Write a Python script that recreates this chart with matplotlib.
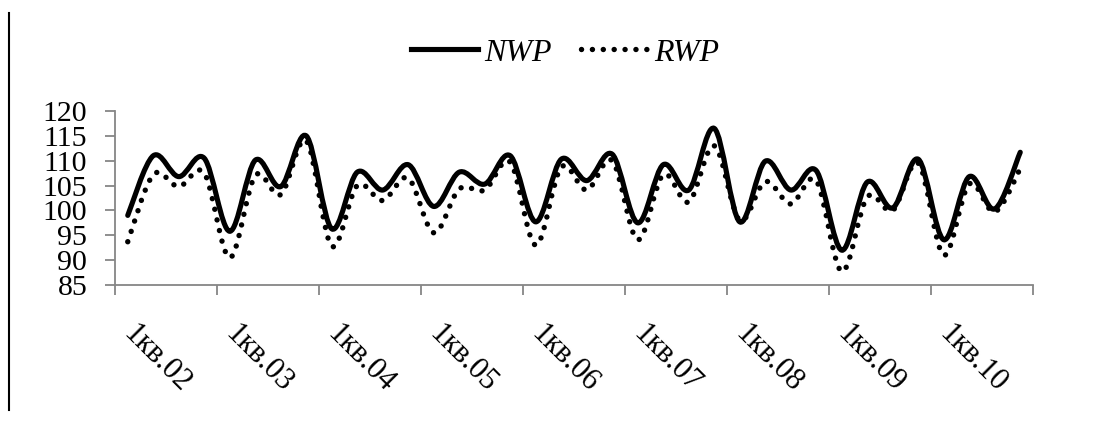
import matplotlib
matplotlib.use('Agg')
import matplotlib.pyplot as plt
import numpy as np
from matplotlib.path import Path
from matplotlib.patches import PathPatch
from matplotlib.lines import Line2D

# Quarterly index values, 1кв.02 .. 4кв.10
quarters = [f"{q}кв.{y:02d}" for y in range(2, 11) for q in range(1, 5)]
nwp = [99.0, 111.0, 106.8, 110.5, 95.8, 110.1, 104.8, 115.0, 96.3,
       107.7, 104.1, 109.2, 100.8, 107.7, 105.3, 111.0, 97.7, 110.3,
       106.0, 111.3, 97.5, 109.2, 104.1, 116.5, 97.7, 109.9, 104.1,
       108.0, 92.0, 105.7, 100.5, 110.3, 94.1, 106.8, 100.3, 111.7]
rwp = [93.7, 107.2, 104.8, 107.5, 90.5, 107.0, 103.2, 114.0, 92.8,
       105.0, 102.0, 106.5, 95.5, 104.3, 104.1, 109.7, 93.0, 108.7,
       104.1, 110.0, 94.1, 107.2, 101.7, 113.0, 98.0, 105.8, 101.3,
       106.0, 87.7, 102.7, 100.0, 109.5, 91.0, 105.3, 99.7, 108.4]
series_names = ['NWP', 'RWP']


def smooth_path(xs, ys):
    # Excel-like smoothed line: Catmull-Rom segments as cubic Bezier curves
    pts = np.column_stack([xs, ys]).astype(float)
    ext = np.vstack([pts[0], pts, pts[-1]])
    verts = [pts[0]]
    codes = [Path.MOVETO]
    for i in range(1, len(ext) - 2):
        p0, p1, p2, p3 = ext[i - 1], ext[i], ext[i + 1], ext[i + 2]
        c1 = p1 + (p2 - p0) / 6.0
        c2 = p2 - (p3 - p1) / 6.0
        verts += [c1, c2, p2]
        codes += [Path.CURVE4] * 3
    return Path(verts, codes)


W, H = 1097, 426
fig = plt.figure(figsize=(W / 100, H / 100), dpi=100)
ax = fig.add_axes([115 / W, 1 - 285 / H, (1033 - 115) / W, (285 - 111) / H])

x = np.arange(len(quarters))
dots = (0, (0.01, 2.0))
ax.add_patch(PathPatch(smooth_path(x, nwp), fill=False, color='black',
                       lw=3.7, capstyle='round', joinstyle='round'))
ax.add_patch(PathPatch(smooth_path(x, rwp), fill=False, color='black',
                       lw=3.9, linestyle=dots, capstyle='round'))

ax.set_xlim(-0.5, len(quarters) - 0.5)
ax.set_ylim(85, 120)
ax.set_yticks(np.arange(85, 121, 5))

serif = 'Liberation Serif'
grey = '#868686'
for s in ['top', 'right']:
    ax.spines[s].set_visible(False)
for s in ['left', 'bottom']:
    ax.spines[s].set_color(grey)
    ax.spines[s].set_linewidth(1.3)

ax.tick_params(axis='y', direction='out', length=7, width=1.3, color=grey,
               labelsize=21.5, pad=13)
for lab in ax.get_yticklabels():
    lab.set_fontfamily(serif)

# boundary tick marks every 4 quarters, labels at first quarter of each year
ax.set_xticks(np.arange(-0.5, len(quarters), 4))
ax.set_xticklabels([])
ax.tick_params(axis='x', which='major', direction='out', length=7, width=1.3, color=grey)
ax.set_xticks(x[::4], minor=True)
ax.set_xticklabels(quarters[::4], minor=True, rotation=-45, rotation_mode='anchor',
                   ha='left', va='center', fontfamily=serif, fontsize=22)
ax.tick_params(axis='x', which='minor', length=0, pad=32)

handles = [Line2D([], [], color='black', lw=3.7),
           Line2D([], [], color='black', lw=3.9, linestyle=dots,
                  dash_capstyle='round')]
fig.legend(handles, series_names, loc='center', bbox_to_anchor=(565 / W, 1 - 53 / H),
           ncol=2, frameon=False, handlelength=2.1, handletextpad=0.2,
           columnspacing=0.9, prop={'family': serif, 'style': 'italic', 'size': 23})

fig.add_artist(Line2D([9 / W, 9 / W], [1 - 13 / H, 1 - 410 / H], color='black', lw=1.5))

fig.savefig('out.png', dpi=100)
